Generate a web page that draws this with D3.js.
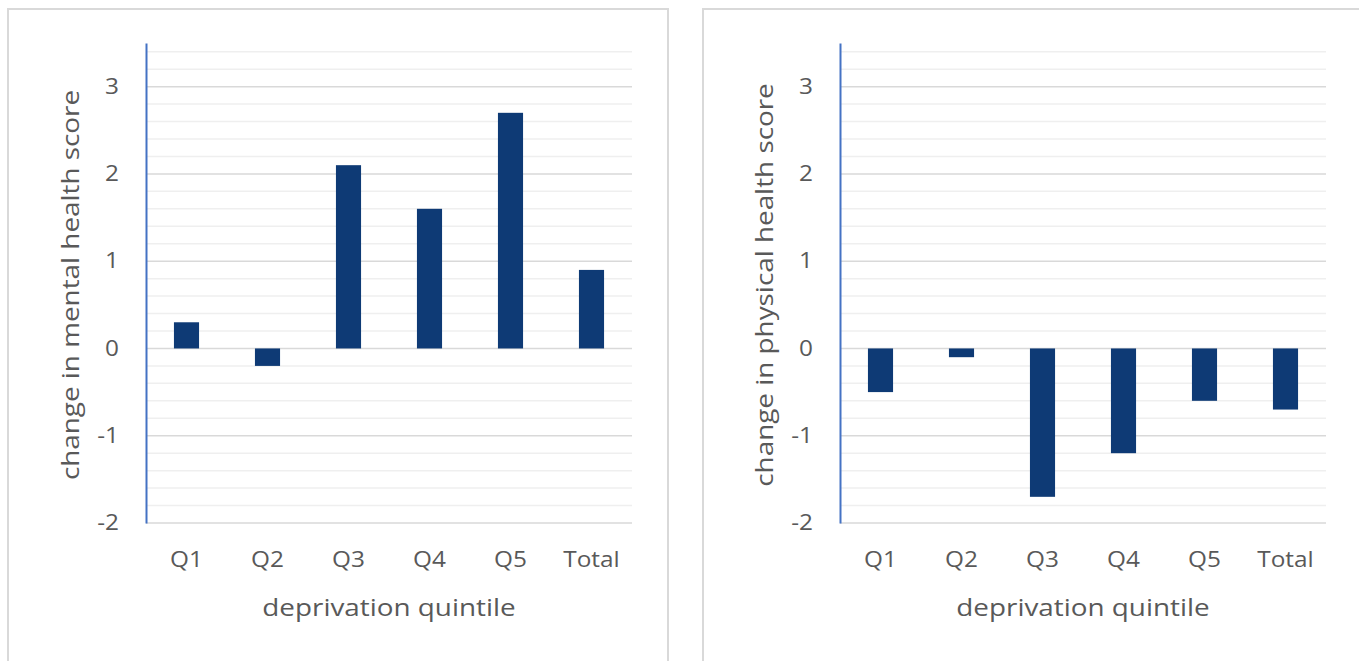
<!DOCTYPE html>
<html>
<head>
<meta charset="utf-8">
<script src="https://cdn.jsdelivr.net/npm/d3@7"></script>
<style>
  html, body { margin: 0; padding: 0; background: #fff; }
  svg { display: block; font-family: "Open Sans", "Noto Sans", sans-serif; }
</style>
</head>
<body>
<svg id="chart" width="1359" height="661"></svg>
<script>
// Deprivation quintiles and the change in score for each
const categories = ["Q1", "Q2", "Q3", "Q4", "Q5", "Total"];
const mentalChange = [0.3, -0.2, 2.1, 1.6, 2.7, 0.9];
const physicalChange = [-0.5, -0.1, -1.7, -1.2, -0.6, -0.7];
const yTicks = [-2, -1, 0, 1, 2, 3];
const panelTitles = ["change in mental health score", "change in physical health score"];
const xTitle = "deprivation quintile";

const svg = d3.select("#chart");

const panels = [
  { values: mentalChange, title: panelTitles[0], frameX: 8, axisX: 146 },
  { values: physicalChange, title: panelTitles[1], frameX: 703, axisX: 840 }
];

const plotTop = 43, plotBottom = 523, plotWidth = 486;
const barColor = "#0e3a75";
const textColor = "#595959";
const stretch = 1.16; // wide lettering

panels.forEach(p => {
  const g = svg.append("g");

  // panel frame
  g.append("rect")
    .attr("x", p.frameX).attr("y", 9)
    .attr("width", 660).attr("height", 700)
    .attr("fill", "#fff").attr("stroke", "#d9d9d9").attr("stroke-width", 2);

  const y = d3.scaleLinear().domain([-2, 3.5]).range([plotBottom, plotTop]);
  const x = d3.scaleBand().domain(categories)
    .range([p.axisX, p.axisX + plotWidth]).paddingInner(0.69).paddingOuter(0.345);

  // minor gridlines every 0.2
  const minor = d3.range(-2, 3.41, 0.2).map(v => Math.round(v * 10) / 10)
    .filter(v => !yTicks.includes(v));
  g.selectAll(".minor").data(minor).join("line")
    .attr("x1", p.axisX).attr("x2", p.axisX + plotWidth)
    .attr("y1", d => y(d)).attr("y2", d => y(d))
    .attr("stroke", "#efefef").attr("stroke-width", 1.5);

  // major gridlines
  g.selectAll(".major").data(yTicks).join("line")
    .attr("x1", p.axisX).attr("x2", p.axisX + plotWidth)
    .attr("y1", d => y(d)).attr("y2", d => y(d))
    .attr("stroke", "#d9d9d9").attr("stroke-width", 1.5);

  // bars
  g.selectAll(".bar").data(p.values).join("rect")
    .attr("x", (d, i) => x(categories[i]))
    .attr("width", x.bandwidth())
    .attr("y", d => y(Math.max(0, d)))
    .attr("height", d => Math.abs(y(d) - y(0)))
    .attr("fill", barColor);

  // y axis
  const yAxis = d3.axisLeft(y).tickValues(yTicks).tickSize(0).tickPadding(27)
    .tickFormat(d => String(d));
  const ya = g.append("g").attr("transform", `translate(${p.axisX},0)`).call(yAxis);
  ya.select(".domain").attr("stroke", "#4472c4").attr("stroke-width", 2);
  ya.selectAll("text").attr("fill", textColor).style("font-size", "21px")
    .attr("font-family", "'Open Sans', sans-serif");

  // x axis labels
  const xAxis = d3.axisBottom(x).tickSize(0).tickPadding(29);
  const xa = g.append("g").attr("transform", `translate(0,${plotBottom})`).call(xAxis);
  xa.select(".domain").remove();
  xa.selectAll("text").attr("fill", textColor).style("font-size", "21px")
    .attr("font-family", "'Open Sans', sans-serif");

  // axis titles
  g.append("text")
    .attr("x", p.axisX + 243).attr("y", 616)
    .attr("text-anchor", "middle").attr("fill", textColor)
    .style("font-size", "24px").text(xTitle);

  g.append("text")
    .attr("transform", `translate(${p.axisX - 67},${(plotTop + plotBottom) / 2 + 2}) rotate(-90)`)
    .attr("text-anchor", "middle").attr("fill", textColor)
    .style("font-size", "24px").text(p.title);
});

// widen every label horizontally
svg.selectAll("text").each(function () {
  const w = this.getComputedTextLength();
  d3.select(this).attr("textLength", w * stretch).attr("lengthAdjust", "spacingAndGlyphs");
});
</script>
</body>
</html>
